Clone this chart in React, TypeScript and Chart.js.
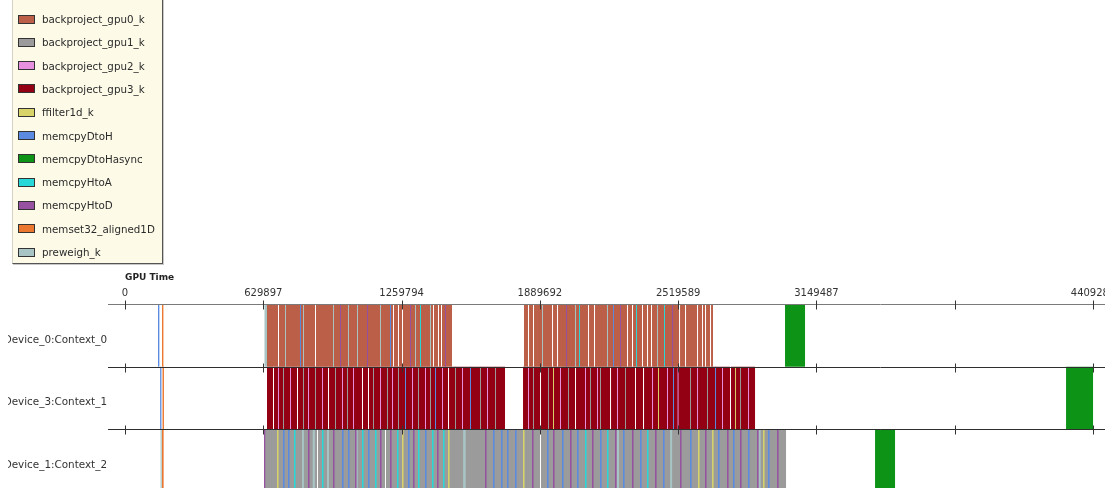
import React, { useEffect, useRef } from 'react';
import { Chart, registerables } from 'chart.js';

Chart.register(...registerables);

type Span = [number, number];

// Timeline rows (one per device context)
const rowLabels = ['Device_0:Context_0', 'Device_3:Context_1', 'Device_1:Context_2'];

const kernelNames = [
  'backproject_gpu0_k',
  'backproject_gpu1_k',
  'backproject_gpu2_k',
  'backproject_gpu3_k',
  'ffilter1d_k',
  'memcpyDtoH',
  'memcpyDtoHasync',
  'memcpyHtoA',
  'memcpyHtoD',
  'memset32_aligned1D',
  'preweigh_k',
];

const kernelColors = [
  '#bb5f48',
  '#9a9b9a',
  '#e890e0',
  '#930013',
  '#d8d46a',
  '#5a8be0',
  '#0d9416',
  '#28d8d8',
  '#9652a0',
  '#ec7830',
  '#a8c4c4',
];

// GPU time axis
const timeTicks = [0, 629897, 1259794, 1889692, 2519589, 3149487, 3779384, 4409282];
const timeTickLabels = ['0', '629897', '1259794', '1889692', '2519589', '3149487', '', '4409282'];
const timeMin = -77400;
const timeMax = 4614000;

// Kernel activity per row: [start, end] in GPU time
const gpu0Spans: Span[][] = [
  [
    [646800, 696900], [701500, 865500], [870000, 1220700], [1225300, 1243500], [1248000, 1261700],
    [1266300, 1402900], [1407500, 1425700], [1430300, 1439400], [1444000, 1489500],
    [1817400, 1835700], [1840300, 1858400], [1863000, 1945000], [1949600, 1967800], [1972400, 2109000],
    [2113600, 2136300], [2140900, 2286600], [2291200, 2309400], [2314000, 2354900], [2359500, 2377700],
    [2382300, 2395900], [2400500, 2523500], [2528100, 2550800], [2555400, 2605500], [2610100, 2628200],
    [2632800, 2641900], [2646500, 2664700], [2669300, 2678300],
  ],
  [],
  [],
];

const gpu1Spans: Span[][] = [
  [],
  [
    [719700, 724200], [810800, 815300], [865500, 870000], [956600, 961100], [1011200, 1015700],
    [1129600, 1134100], [1193400, 1197900], [1243500, 1248000], [1334600, 1339100], [1389300, 1393800],
    [1503200, 1507700], [1617000, 1621500], [1685400, 1689900],
    [1858400, 1862900], [1926800, 1931300], [2017900, 2022400], [2118100, 2122600], [2163600, 2168100],
    [2277500, 2282000], [2573600, 2578100], [2651000, 2655500], [2801300, 2805800],
  ],
  [[637700, 874600], [879100, 1184300], [1188800, 1890300], [1894900, 3010900]],
];

const gpu2Spans: Span[][] = [
  [],
  [
    [696900, 701400], [751600, 756100], [833600, 838100], [897300, 901800], [988400, 992900],
    [1038500, 1043000], [1161500, 1166000], [1216200, 1220700], [1307300, 1311800], [1366500, 1371000],
    [1443900, 1448400], [1535000, 1539500], [1648900, 1653400],
    [1835700, 1840200], [1981400, 1985900], [2095300, 2099800], [2150000, 2154500], [2241000, 2245500],
    [2400500, 2405000], [2468800, 2473300], [2516800, 2521300], [2605500, 2610000], [2719300, 2723800],
    [2837800, 2842300],
  ],
  [],
];

const gpu3Spans: Span[][] = [
  [],
  [
    [646800, 674100], [678700, 783500], [788000, 924700], [929300, 1079500], [1084100, 1106900],
    [1111400, 1471300], [1475900, 1730900],
    [1812900, 1890300], [1894900, 2049800], [2054300, 2209200], [2213800, 2323100], [2327600, 2359500],
    [2364100, 2755800], [2760300, 2869700],
  ],
  [],
];

const ffilterSpans: Span[][] = [
  [],
  [[1949500, 1954000], [2427800, 2432300], [2778600, 2783100]],
  [
    [692400, 699400], [1261700, 1268700], [1471300, 1478300], [1812900, 1819900], [2610000, 2617000],
    [2673800, 2680800], [2906100, 2913100],
  ],
];

const dtoHSpans: Span[][] = [
  [[150300, 156500], [797100, 801600], [1207100, 1211600], [2222800, 2227300]],
  [[160000, 166000], [1275400, 1279900], [1412100, 1416600], [1571500, 1576000], [2496100, 2500600], [2687500, 2692000]],
  [
    [719700, 726700], [742500, 749500], [988400, 995400], [1015800, 1022800], [1106900, 1113900],
    [1289100, 1296100], [1366500, 1373500], [1676200, 1683200], [1712700, 1719700], [1740000, 1747000],
    [1776500, 1783500], [1922200, 1929200], [1990500, 1997500], [2058900, 2065900], [2163600, 2170600],
    [2268400, 2275400], [2345800, 2352800], [2450600, 2457600], [2573600, 2580600], [2701100, 2708100],
    [2769400, 2776400], [2837800, 2844800], [2928900, 2935900],
  ],
];

const dtoHAsyncSpans: Span[][] = [
  [[3006300, 3097400]],
  [[4286300, 4409282]],
  [[3416300, 3507400]],
];

const htoASpans: Span[][] = [
  [[1343700, 1348200], [2068000, 2072500], [2327600, 2332100], [2455100, 2459600]],
  [],
  [
    [769800, 776800], [897300, 904300], [1079500, 1086500], [1138800, 1145800], [1239000, 1246000],
    [1334600, 1341600], [1398400, 1405400], [1448500, 1455500], [2095300, 2102300], [2195500, 2202500],
    [2377700, 2384700],
  ],
];

const htoDSpans: Span[][] = [
  [[979300, 983800], [1102300, 1106800], [1298200, 1302700], [1457600, 1462100], [2008800, 2013300], [2254700, 2259200], [2491600, 2496100]],
  [],
  [
    [633000, 639000], [833600, 840600], [947400, 954400], [1047700, 1054700], [1161500, 1168500],
    [1207100, 1214100], [1311800, 1318800], [1421200, 1428200], [1639800, 1646800], [1853900, 1860900],
    [1949500, 1956500], [2027000, 2034000], [2127200, 2134200], [2231900, 2238900], [2309400, 2316400],
    [2414200, 2421200], [2528000, 2535000], [2641900, 2648900], [2742100, 2749100], [2801300, 2808300],
    [2878800, 2885800], [2969900, 2976900],
  ],
];

const memsetSpans: Span[][] = [
  [[168500, 175000]],
  [[171000, 177500]],
  [[168500, 176000]],
];

const preweighSpans: Span[][] = [
  [
    [635400, 646800], [728800, 733300], [810800, 815300], [947400, 951900], [1015800, 1020300],
    [1056800, 1061300], [1161500, 1166000], [1321000, 1325500], [1389300, 1393800], [1899400, 1903900],
    [2049800, 2054300], [2195500, 2200000], [2423300, 2427800],
  ],
  [],
  [
    [162000, 167500], [806200, 815200], [855000, 865000], [920100, 929100], [1050000, 1060000],
    [1540000, 1552000], [2240000, 2250000], [2482500, 2492000], [2885000, 2895000],
  ],
];

const kernelSpans = [
  gpu0Spans, gpu1Spans, gpu2Spans, gpu3Spans, ffilterSpans, dtoHSpans,
  dtoHAsyncSpans, htoASpans, htoDSpans, memsetSpans, preweighSpans,
];

// long-running backprojection kernels sit underneath the short transfers
const baseKernels = [0, 1, 3];

const FONT = '"DejaVu Sans", "Liberation Sans", sans-serif';

const timelineAxes = {
  id: 'timelineAxes',
  afterDatasetsDraw(chart: any) {
    const { ctx, chartArea, scales } = chart;
    const xs = scales.x;
    const ys = scales.y;
    const half = (ys.getPixelForValue(1) - ys.getPixelForValue(0)) / 2;
    const edges = rowLabels.map((_, i) => ys.getPixelForValue(i) - half);
    edges.push(ys.getPixelForValue(rowLabels.length - 1) + half);
    ctx.save();
    ctx.lineWidth = 1;
    edges.forEach((e: number, i: number) => {
      const yy = Math.round(e) + 0.5;
      ctx.strokeStyle = i === 0 ? '#7a7a7a' : '#2e2e2e';
      ctx.beginPath();
      ctx.moveTo(chartArea.left, yy);
      ctx.lineTo(chartArea.right, yy);
      ctx.stroke();
      ctx.strokeStyle = '#333';
      ctx.beginPath();
      timeTicks.forEach((t) => {
        const xx = Math.round(xs.getPixelForValue(t)) + 0.5;
        ctx.moveTo(xx, yy - 4);
        ctx.lineTo(xx, yy + 5);
      });
      ctx.stroke();
    });
    ctx.font = `bold 9px ${FONT}`;
    ctx.fillStyle = '#222';
    ctx.textAlign = 'left';
    ctx.textBaseline = 'middle';
    ctx.fillText('GPU Time', xs.getPixelForValue(0), chartArea.top - 26);
    ctx.restore();
  },
};

export default function App() {
  const canvasRef = useRef<HTMLCanvasElement>(null);

  useEffect(() => {
    const datasets = kernelNames.map((name, k) => ({
      label: name,
      data: kernelSpans[k].flatMap((spans, r) => spans.map((s) => ({ y: rowLabels[r], x: s }))),
      backgroundColor: kernelColors[k],
      borderWidth: 0,
      grouped: false,
      inflateAmount: 0,
      categoryPercentage: 1,
      barPercentage: 1,
      order: baseKernels.includes(k) ? 1 : 0,
    }));

    const chart = new Chart(canvasRef.current as HTMLCanvasElement, {
      type: 'bar',
      data: { labels: rowLabels, datasets: datasets as any },
      options: {
        indexAxis: 'y',
        animation: false,
        responsive: false,
        layout: { padding: 0 },
        plugins: { legend: { display: false }, tooltip: { enabled: false } },
        scales: {
          x: {
            type: 'linear',
            position: 'top',
            min: timeMin,
            max: timeMax,
            grid: { display: false, drawTicks: false },
            border: { display: false },
            ticks: {
              autoSkip: false,
              maxRotation: 0,
              padding: 5,
              color: '#333',
              font: { family: FONT, size: 10 },
              callback: (_v: any, i: number) => timeTickLabels[i],
            },
            afterBuildTicks: (scale: any) => {
              scale.ticks = timeTicks.map((value) => ({ value }));
            },
            afterFit: (scale: any) => {
              scale.height = 304;
              scale.paddingLeft = 0;
              scale.paddingRight = 0;
            },
          },
          y: {
            type: 'category',
            grid: { display: false, drawTicks: false },
            border: { display: false },
            ticks: {
              padding: 1,
              labelOffset: 4.5,
              color: '#333',
              font: { family: FONT, size: 10.4 },
            },
            afterFit: (scale: any) => {
              scale.width = 100;
              scale.paddingTop = 0;
              scale.paddingBottom = 0;
            },
          },
        },
      },
      plugins: [timelineAxes],
    });
    return () => chart.destroy();
  }, []);

  return (
    <div
      style={{
        position: 'fixed',
        left: 0,
        top: 0,
        width: 1105,
        height: 488,
        overflow: 'hidden',
        background: '#fff',
      }}
    >
      <canvas
        ref={canvasRef}
        width={1130}
        height={492}
        style={{ position: 'absolute', left: 8, top: 0, width: 1130, height: 492 }}
      />
      <div
        style={{
          position: 'absolute',
          left: 12,
          top: -10,
          width: 151,
          height: 274,
          boxSizing: 'border-box',
          background: '#fdfbe8',
          borderLeft: '1px solid #d4d2c4',
          borderRight: '1px solid #555',
          borderBottom: '1px solid #555',
          boxShadow: '1px 1px 0 #c8c8c8',
          fontFamily: FONT,
          fontSize: 10.3,
          color: '#2a2a2a',
        }}
      >
        {kernelNames.map((name, k) => (
          <div
            key={name}
            style={{ position: 'absolute', left: 0, top: 29 + k * 23.3 - 6, height: 12, width: 150 }}
          >
            <div
              style={{
                position: 'absolute',
                left: 5,
                top: 1.5,
                width: 17,
                height: 9,
                boxSizing: 'border-box',
                background: kernelColors[k],
                border: '1px solid #333',
              }}
            />
            <span style={{ position: 'absolute', left: 29, top: 0, lineHeight: '12px', whiteSpace: 'nowrap' }}>
              {name}
            </span>
          </div>
        ))}
      </div>
    </div>
  );
}
